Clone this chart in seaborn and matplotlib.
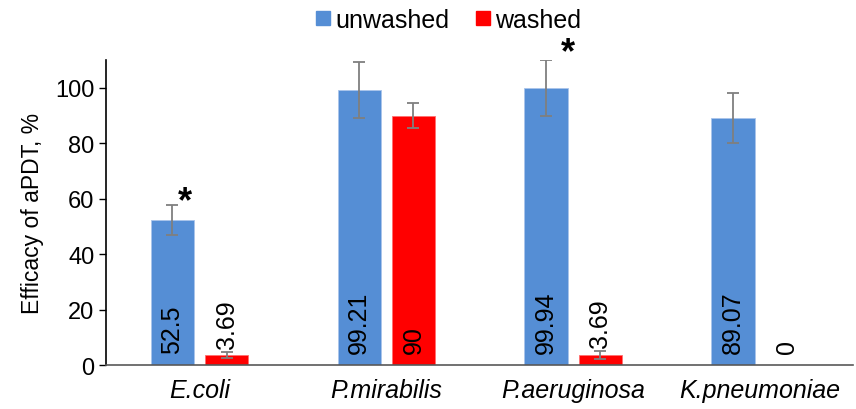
import matplotlib
matplotlib.use("Agg")
import matplotlib.pyplot as plt
import seaborn as sns
import pandas as pd
from matplotlib.lines import Line2D

# Data
categories = ["E.coli", "P.mirabilis", "P.aeruginosa", "K.pneumoniae"]
groups = ["unwashed", "washed"]
unwashed = [52.5, 99.21, 99.94, 89.07]
washed = [3.69, 90, 3.69, 0]
unwashed_err = [5.4, 10.0, 10.0, 9.0]
washed_err = [1.0, 4.5, 1.4, 0.0]
significant = ["E.coli", "P.aeruginosa"]

colors = {"unwashed": "#558ED5", "washed": "#FF0000"}

df = pd.DataFrame({
    "strain": categories * 2,
    "group": ["unwashed"] * 4 + ["washed"] * 4,
    "efficacy": unwashed + washed,
})

sns.set_style("white")
plt.rcParams["font.family"] = ["Liberation Sans", "DejaVu Sans"]
for key in ["text.color", "axes.labelcolor", "xtick.color", "ytick.color"]:
    plt.rcParams[key] = "black"

fig = plt.figure(figsize=(8.56, 4.10), dpi=100)
ax = fig.add_axes([0.124, 0.107, 0.873, 0.744])

sns.barplot(data=df, x="strain", y="efficacy", hue="group", order=categories,
            hue_order=groups, palette=colors, saturation=1, width=0.58, gap=0.2,
            errorbar=None, edgecolor="#A9C4EB", linewidth=0.6, ax=ax,
            legend=False)

# Washed bars get a lighter red edge
for p in ax.containers[1]:
    p.set_edgecolor("#FF7070")

errs = {"unwashed": unwashed_err, "washed": washed_err}
vals = {"unwashed": unwashed, "washed": washed}
centers = {}
for g, cont in zip(groups, ax.containers):
    xs = [p.get_x() + p.get_width() / 2 for p in cont]
    centers[g] = xs
    for x, v, e in zip(xs, vals[g], errs[g]):
        if e > 0:
            ax.errorbar(x, v, yerr=e, fmt="none", ecolor="#7F7F7F",
                        elinewidth=1.3, capsize=4.5, capthick=1.3, zorder=5)
        # value label at the bar base, or just above a short bar
        y_lab = 4.5 if v > 20 or v == 0 else v + e + 1.5
        ax.text(x, y_lab, f"{v:g}", rotation=90, ha="center", va="bottom",
                fontsize=18, color="black", zorder=6)

# Significance markers
star_pos = {"E.coli": (0.065, 52.5), "P.aeruginosa": (0.115, 106.5)}
for cat in significant:
    i = categories.index(cat)
    dx, y = star_pos[cat]
    ax.text(centers["unwashed"][i] + dx, y, "*", ha="center", va="bottom",
            fontsize=26, fontweight="bold", clip_on=False)

ax.set_ylim(0, 110)
ax.set_xlim(-0.5, 3.5)
ax.set_yticks([0, 20, 40, 60, 80, 100])
ax.tick_params(axis="y", labelsize=17, length=5, width=1, direction="out",
               left=True)
ax.tick_params(axis="x", labelsize=18, length=0, pad=9)
for lbl in ax.get_xticklabels():
    lbl.set_fontstyle("italic")
ax.set_xlabel("")
ax.set_ylabel("Efficacy of aPDT, %", fontsize=16.5, labelpad=8)

for s in ["top", "right"]:
    ax.spines[s].set_visible(False)
ax.spines["left"].set_color("black")
ax.spines["left"].set_linewidth(1.2)
ax.spines["bottom"].set_color("#595959")
ax.spines["bottom"].set_linewidth(1.2)

handles = [Line2D([], [], marker="s", linestyle="none", markersize=10,
                  markerfacecolor=colors[g], markeredgecolor=colors[g])
           for g in groups]
fig.legend(handles, groups, loc="center", bbox_to_anchor=(0.523, 0.95),
           ncol=2, frameon=False, fontsize=18, handletextpad=0.15,
           columnspacing=1.0, handlelength=0.7)

fig.savefig("out.png", dpi=100)
